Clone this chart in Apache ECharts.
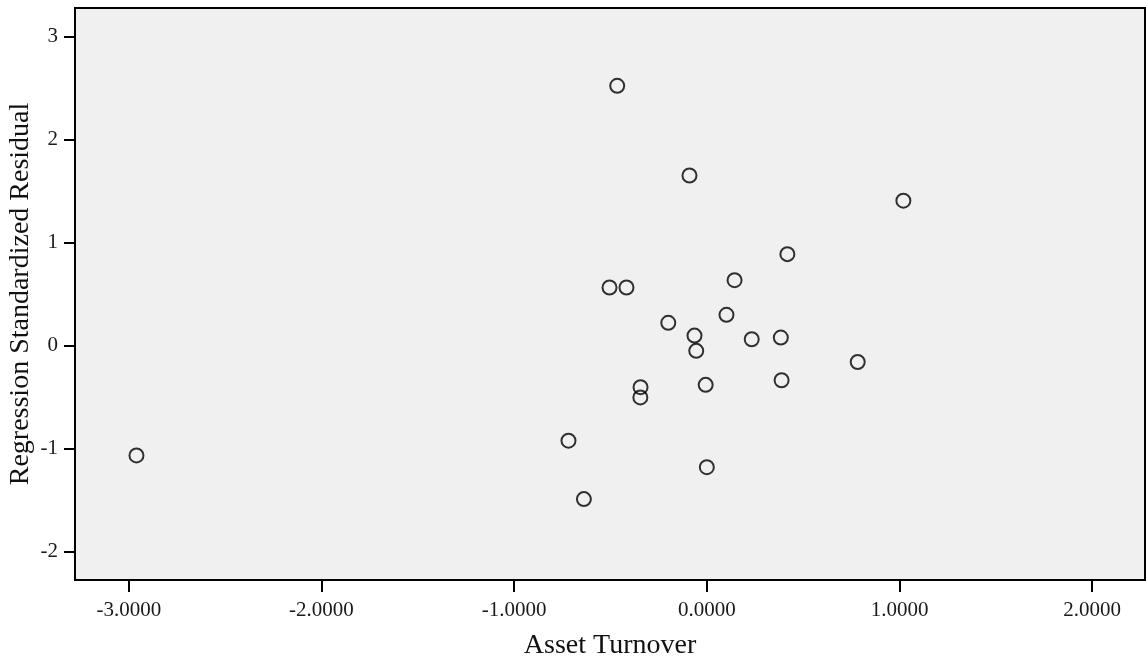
<!DOCTYPE html>
<html>
<head>
<meta charset="utf-8">
<script src="https://cdn.jsdelivr.net/npm/echarts@6/dist/echarts.min.js"></script>
<style>
  html, body { margin: 0; padding: 0; background: #fff; }
  #chart { width: 1146px; height: 660px; }
</style>
</head>
<body>
<div id="chart"></div>
<script>
// values
const assetTurnover = [
  -2.960, -0.465, -0.090, 1.020, 0.418, 0.144, -0.505, -0.417,
  -0.200, 0.102, -0.064, -0.055, 0.233, 0.384, 0.783, 0.388,
  -0.344, -0.345, -0.006, -0.718, 0.000, -0.638
]
const stdResidual = [
  -1.066, 2.522, 1.651, 1.407, 0.888, 0.635, 0.564, 0.564,
  0.221, 0.299, 0.097, -0.051, 0.062, 0.078, -0.159, -0.336,
  -0.403, -0.503, -0.381, -0.923, -1.180, -1.490
]
const xTicks = [-3, -2, -1, 0, 1, 2]
const yTicks = [-2, -1, 0, 1, 2, 3]

const points = assetTurnover.map((x, i) => [x, stdResidual[i]])

const font = 'Liberation Serif, Times New Roman, serif'

const chart = echarts.init(document.getElementById('chart'))
chart.setOption({
  animation: false,
  backgroundColor: '#fff',
  grid: {
    left: 75, top: 8, right: 1, bottom: 80,
    outerBoundsMode: 'none',
    containLabel: false,
    show: true,
    backgroundColor: '#F0F0F0',
    borderColor: '#000',
    borderWidth: 2,
  },
  xAxis: {
    type: 'value',
    min: -3.279, max: 2.274,
    name: 'Asset Turnover',
    nameLocation: 'middle',
    nameGap: 52,
    nameMoveOverlap: false,
    nameTextStyle: { fontFamily: font, fontSize: 28, color: '#111' },
    axisLine: { onZero: false, lineStyle: { color: '#000', width: 2 } },
    axisTick: { customValues: xTicks, length: 12, lineStyle: { color: '#000', width: 2 } },
    axisLabel: {
      customValues: xTicks,
      margin: 20,
      fontFamily: font, fontSize: 21, color: '#1a1a1a',
      formatter: v => v.toFixed(4),
    },
    splitLine: { show: false },
  },
  yAxis: {
    type: 'value',
    min: -2.275, max: 3.277,
    name: 'Regression Standardized Residual',
    nameLocation: 'middle',
    nameGap: 40,
    nameMoveOverlap: false,
    nameTextStyle: { fontFamily: font, fontSize: 28, color: '#111' },
    axisLine: { onZero: false, lineStyle: { color: '#000', width: 2 } },
    axisTick: { customValues: yTicks, length: 11, lineStyle: { color: '#000', width: 2 } },
    axisLabel: {
      customValues: yTicks,
      margin: 17,
      fontFamily: font, fontSize: 21, color: '#1a1a1a',
    },
    splitLine: { show: false },
  },
  series: [
    {
      type: 'scatter',
      data: points,
      symbol: 'circle',
      symbolSize: 14,
      itemStyle: { color: 'transparent', borderColor: '#000', borderWidth: 2 },
      emphasis: { disabled: true },
    },
  ],
})
</script>
</body>
</html>
